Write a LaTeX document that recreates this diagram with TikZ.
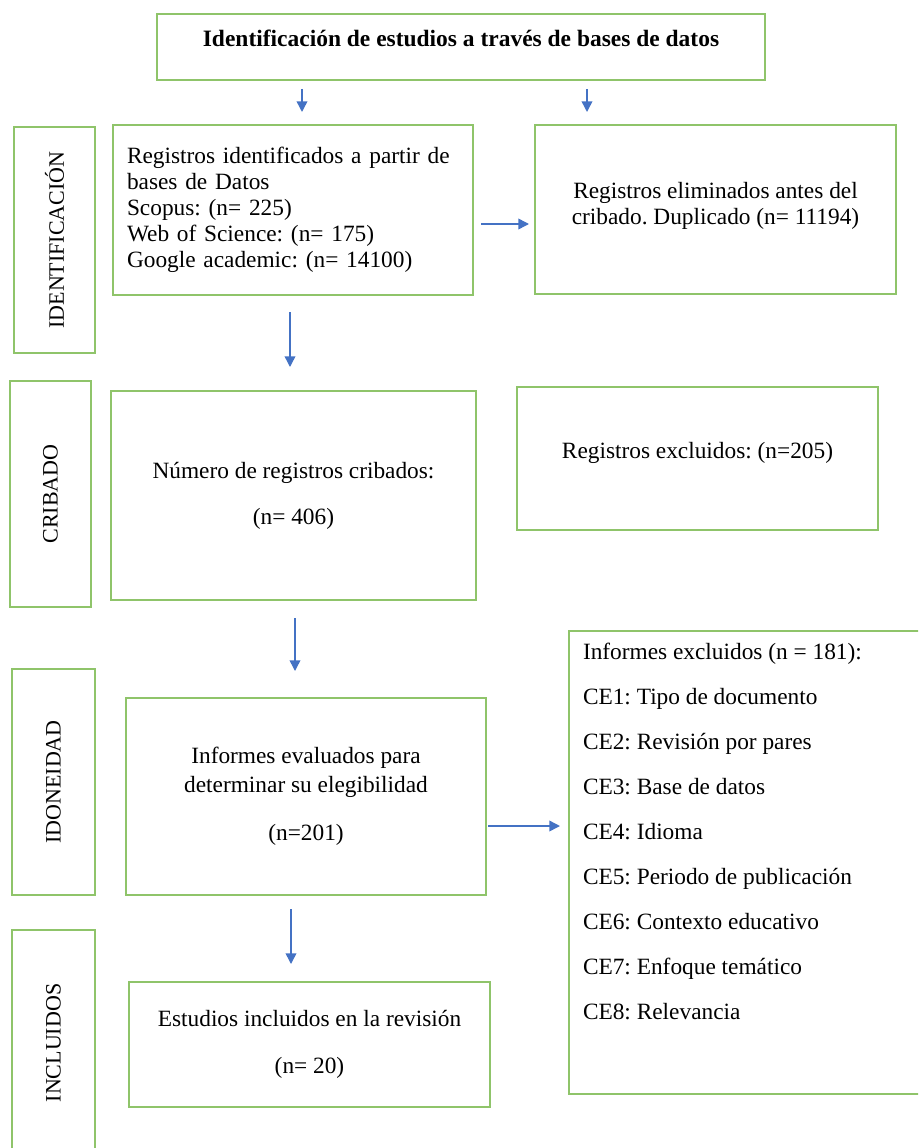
\documentclass[tikz,border=0pt]{standalone}
\usepackage{fontspec}
\setmainfont{Liberation Serif}
\usetikzlibrary{arrows.meta}

\definecolor{verde}{RGB}{143,196,106}
\definecolor{azul}{RGB}{68,114,196}

\tikzset{
    caja/.style={draw=verde, line width=1.5pt, inner sep=0pt, align=center},
    fase/.style={caja, rotate=90, minimum width=169.5pt, font=\fontsize{16.5}{19}\selectfont},
    flecha/.style={azul, line width=1.1pt, -{Triangle[length=8pt,width=8pt]}},
}

\begin{document}
\frenchspacing
\begin{tikzpicture}[x=0.75pt, y=-0.75pt, font=\fontsize{17.5}{19.5}\selectfont]
    \path [use as bounding box, clip] (0,0) rectangle (918,1148);

    \node [caja, font=\fontsize{17.6}{19.5}\selectfont\bfseries, minimum width=456pt, minimum height=49.5pt,
           text height=10pt, text depth=10pt] (titulo) at (461,47)
          {Identificación de estudios a través de bases de datos};

    \node [caja, minimum width=270pt, minimum height=127.5pt, text width=249pt, align=left] (regid) at (293,210)
          {Registros identificados a partir de\\ bases de Datos\\ Scopus: (n= 225)\\ Web of Science: (n= 175)\\ Google academic: (n= 14100)};
    \node [caja, minimum width=270.75pt, minimum height=126.75pt] (elim) at (715.5,209.5)
          {Registros eliminados antes del\\ cribado. Duplicado (n= 11194)\\[-10pt]\mbox{}};

    \node [caja, minimum width=273.75pt, minimum height=156.75pt] (cribados) at (293.5,495.5)
          {Número de registros cribados:\\[15pt] (n= 406)};
    \node [caja, minimum width=270.75pt, minimum height=107.25pt, text height=10pt, text depth=10pt] (excluidos) at (697.5,458.5)
          {Registros excluidos: (n=205)};

    \node [caja, minimum width=270pt, minimum height=147.75pt] (evaluados) at (306,796.5)
          {Informes evaluados para\\[2pt] determinar su elegibilidad\\[16.5pt] (n=201)};
    \node [caja, anchor=north west, inner xsep=10.5pt, inner ysep=9pt] (informes) at (568,630)
          {\parbox[c][329.25pt][t]{250pt}{\setlength{\baselineskip}{33.75pt}%
           Informes excluidos (n = 181):\\ CE1: Tipo de documento\\ CE2: Revisión por pares\\ CE3: Base de datos\\
           CE4: Idioma\\ CE5: Periodo de publicación\\ CE6: Contexto educativo\\ CE7: Enfoque temático\\ CE8: Relevancia}};

    \node [caja, minimum width=270.75pt, minimum height=93.75pt] (incluidos) at (309.5,1044.5)
          {Estudios incluidos en la revisión\\[15.75pt] (n= 20)};

    \foreach \nombre/\x/\y/\w/\texto in {ident/54.5/240/60.75/IDENTIFICACIÓN, crib/50.5/494/60.75/CRIBADO,
                                          idon/53.5/782/62.25/IDONEIDAD, incl/53.5/1043/62.25/INCLUIDOS}{%
        \node [fase, minimum height=\w pt] (\nombre) at (\x,\y) {\texto};
    }

    \draw [flecha, shorten <=6pt, shorten >=9pt]        (titulo.south -| 302,0) -- (regid.north -| 302,0);
    \draw [flecha, shorten <=6pt, shorten >=9pt]        (titulo.south -| 587,0) -- (elim.north -| 587,0);
    \draw [flecha, shorten <=5.25pt, shorten >=3.75pt]  (regid.east |- 0,224) -- (elim.west |- 0,224);
    \draw [flecha, shorten <=12pt, shorten >=17.25pt]   (regid.south -| 290,0) -- (cribados.north -| 290,0);
    \draw [flecha, shorten <=12.75pt, shorten >=19.5pt] (cribados.south -| 295,0) -- (evaluados.north -| 295,0);
    \draw [flecha, shorten <=0.75pt, shorten >=6pt]     (evaluados.east |- 0,826) -- (informes.west |- 0,826);
    \draw [flecha, shorten <=9.75pt, shorten >=12.75pt] (evaluados.south -| 291,0) -- (incluidos.north -| 291,0);
\end{tikzpicture}
\end{document}
